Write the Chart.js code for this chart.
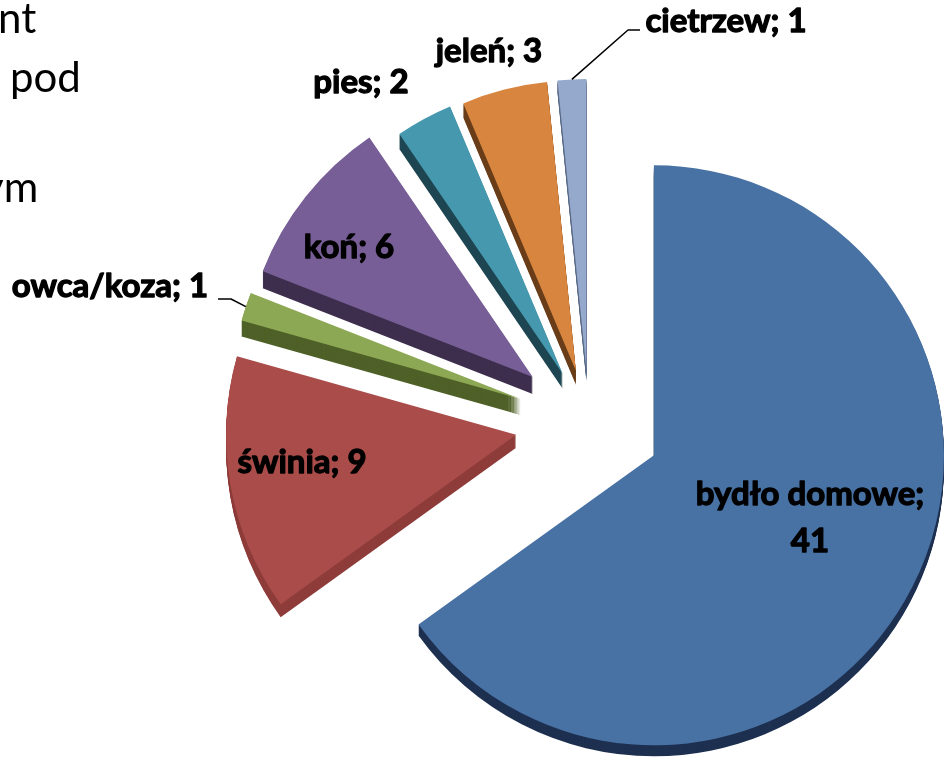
<!DOCTYPE html>
<html>
<head>
<meta charset="utf-8">
<script src="https://cdn.jsdelivr.net/npm/chart.js@4"></script>
<style>
  html, body { margin: 0; padding: 0; background: #fff; overflow: hidden; }
  #wrap { position: relative; width: 944px; height: 759px; overflow: hidden; }
  #c { position: absolute; left: 0; top: 0; }
  .slide-text { position: absolute; font-family: Lato, "Open Sans", sans-serif; font-size: 42px;
                line-height: 1; color: #000; white-space: nowrap; }
</style>
</head>
<body>
<div id="wrap">
  <canvas id="c" width="944" height="759"></canvas>
  <div class="slide-text" style="left:-2px;top:-4px">nt</div>
  <div class="slide-text" style="left:10px;top:55px">pod</div>
  <div class="slide-text" style="left:-18px;top:165px">ym</div>
</div>
<script>
// Animal bone finds by species
const CATEGORIES = ['bydło domowe', 'świnia', 'owca/koza', 'koń', 'pies', 'jeleń', 'cietrzew'];
const VALUES = [41, 9, 1, 6, 2, 3, 1];

// Slice styling
const TOP_COLORS  = ['#4871A4', '#AA4D4A', '#8DA854', '#775E96', '#4698AF', '#D8863F', '#95A9CD'];
const SIDE_COLORS = ['#1E3050', '#8E3C3A', '#4F6128', '#3E2F4E', '#1E4652', '#6A3E1A', '#5B6B87'];
const EXPLODE = [73, 74, 72, 72, 55, 53, 53];   // pull-out distance of each slice, px
const DEPTH   = [11, 13, 16, 17, 15, 14, 12];   // thickness of each extruded rim, px

// Label placement: centre x, baseline y (first line)
const LABEL_POS = [
  { x: 810, y: 505, wrap: true },
  { x: 302, y: 473 },
  { x: 110, y: 297, leader: [[218, 299], [231, 299]] },
  { x: 349, y: 258 },
  { x: 361, y: 93 },
  { x: 489, y: 62 },
  { x: 726, y: 32, leader: [[640, 30], [628, 30]] }
];
const LABEL_FONT = 'bold 33px Lato, "Open Sans", sans-serif';
const LINE_GAP = 47;

const pie3d = {
  id: 'pie3d',
  afterDatasetsUpdate(chart) {
    chart.getDatasetMeta(0).data.forEach((arc, i) => {
      const mid = (arc.startAngle + arc.endAngle) / 2;
      arc.x += Math.cos(mid) * EXPLODE[i];
      arc.y += Math.sin(mid) * EXPLODE[i];
    });
  },
  beforeDatasetsDraw(chart) {
    const ctx = chart.ctx;
    chart.getDatasetMeta(0).data.forEach((arc, i) => {
      ctx.save();
      ctx.fillStyle = SIDE_COLORS[i];
      for (let k = DEPTH[i]; k >= 1; k--) {
        ctx.beginPath();
        ctx.moveTo(arc.x, arc.y + k);
        ctx.arc(arc.x, arc.y + k, arc.outerRadius, arc.startAngle, arc.endAngle);
        ctx.closePath();
        ctx.fill();
      }
      ctx.restore();
    });
  },
  afterDatasetsDraw(chart) {
    const ctx = chart.ctx;
    const arcs = chart.getDatasetMeta(0).data;
    ctx.save();
    ctx.font = LABEL_FONT;
    ctx.fillStyle = '#000';
    ctx.strokeStyle = '#000';
    ctx.lineJoin = 'round';
    ctx.textAlign = 'center';
    ctx.textBaseline = 'alphabetic';
    arcs.forEach((arc, i) => {
      const p = LABEL_POS[i];
      const lines = p.wrap ? [CATEGORIES[i] + ';', String(VALUES[i])]
                           : [CATEGORIES[i] + '; ' + VALUES[i]];
      lines.forEach((t, j) => {
        ctx.lineWidth = 1.3;
        ctx.fillText(t, p.x, p.y + j * LINE_GAP);
        ctx.strokeText(t, p.x, p.y + j * LINE_GAP);
      });
      if (p.leader) {
        const mid = (arc.startAngle + arc.endAngle) / 2;
        const ex = arc.x + Math.cos(mid) * arc.outerRadius;
        const ey = arc.y + Math.sin(mid) * arc.outerRadius;
        ctx.beginPath();
        ctx.lineWidth = 1.5;
        ctx.moveTo(p.leader[0][0], p.leader[0][1]);
        for (let k = 1; k < p.leader.length; k++) ctx.lineTo(p.leader[k][0], p.leader[k][1]);
        ctx.lineTo(ex, ey);
        ctx.stroke();
      }
    });
    ctx.restore();
  }
};

new Chart(document.getElementById('c'), {
  type: 'pie',
  data: {
    labels: CATEGORIES,
    datasets: [{
      data: VALUES,
      backgroundColor: TOP_COLORS,
      borderWidth: 0
    }]
  },
  options: {
    responsive: false,
    animation: false,
    events: [],
    rotation: 0,
    layout: { padding: { left: 299, right: 65, top: 132, bottom: 47 } },
    plugins: { legend: { display: false }, tooltip: { enabled: false } }
  },
  plugins: [pie3d]
});
</script>
</body>
</html>
